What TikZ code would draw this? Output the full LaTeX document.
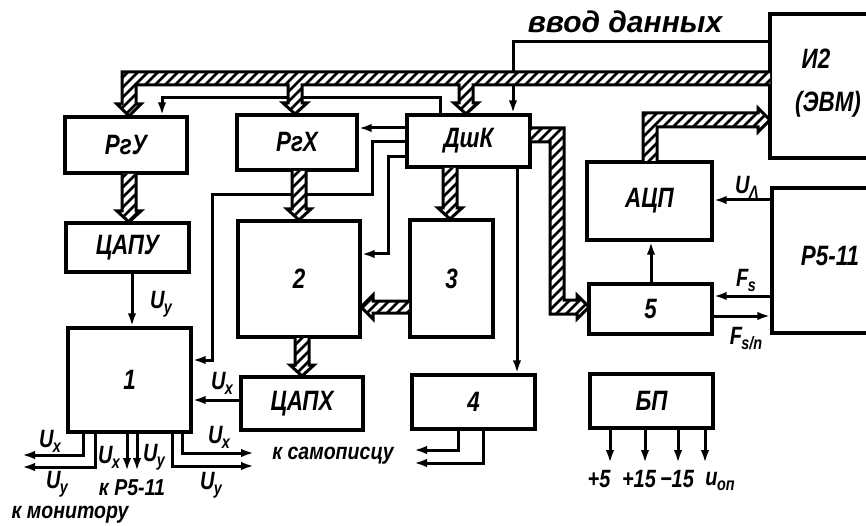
\documentclass[tikz,border=0pt]{standalone}
\usepackage{fontspec}
\setmainfont{Liberation Sans}[FakeStretch=0.8]
\newfontfamily\plainf{Liberation Sans}[FakeStretch=0.85]
\newfontfamily\widef{Liberation Sans}
\usetikzlibrary{arrows.meta}
\newcommand\lsub[2]{#1\kern-0.5pt\raisebox{-5pt}{\fontsize{18}{18}\selectfont #2}}
% hatched bus: #1 = open outline path (coordinates joined by --)
\newcommand\bus[1]{%
  \fill[white] #1 -- cycle;
  \begin{scope}
    \clip #1 -- cycle;
    \foreach \k in {-560,-550,...,880} {\draw[line width=2.8pt] (\k,540) -- ({\k+560},-20);}
  \end{scope}
  \draw[busl] #1;}
\newcommand\busdown[3]{%
  \bus{({#1-7},#2) -- ({#1-7},{#3-11}) -- ({#1-12},{#3-11}) -- (#1,#3) -- ({#1+12},{#3-11}) -- ({#1+7},{#3-11}) -- ({#1+7},#2)}}
\begin{document}
\begin{tikzpicture}[x=1pt,y=-1pt,
  box/.style={draw, line width=3.4pt, inner sep=0pt, font=\bfseries\itshape\fontsize{28}{28}\selectfont},
  lbl/.style={inner sep=0pt, font=\bfseries\itshape\fontsize{25}{25}\selectfont},
  big/.style={inner sep=0pt, font=\bfseries\itshape\fontsize{28}{28}\selectfont},
  txt/.style={inner sep=0pt, font=\plainf\bfseries\itshape\fontsize{23}{23}\selectfont},
  arr/.style={line width=3pt, -{Latex[length=13pt,width=8.5pt]}},
  busl/.style={line width=3pt, line join=miter},
]
\useasboundingbox (0,0) rectangle (866,526);

% boxes
\node[box, minimum width=122pt, minimum height=56pt] (rgy) at (126,145) {РгУ};
\node[box, minimum width=120pt, minimum height=55pt] (rgx) at (297,142.5) {РгХ};
\node[box, minimum width=123pt, minimum height=52pt] (dshk) at (468.5,141) {ДшК};
\node[box, minimum width=120pt, minimum height=144pt] (i2) at (830,86) {};
\node[box, minimum width=125pt, minimum height=78pt] (acp) at (649.5,201) {АЦП};
\node[box, minimum width=118pt, minimum height=145pt] (r511) at (831,260.5) {};
\node[box, minimum width=123pt, minimum height=50pt] (n5) at (650.5,309) {5};
\node[box, minimum width=123pt, minimum height=49pt] (capy) at (127.5,247.5) {ЦАПУ};
\node[box, minimum width=123pt, minimum height=104pt] (n1) at (129.5,380) {1};
\node[box, minimum width=122pt, minimum height=116pt] (n2) at (299,279) {2};
\node[box, minimum width=83pt, minimum height=117pt] (n3) at (451.5,278.5) {3};
\node[box, minimum width=122pt, minimum height=53pt] (capx) at (302,403.5) {ЦАПХ};
\node[box, minimum width=123pt, minimum height=54pt] (n4) at (473.5,402) {4};
\node[box, minimum width=123pt, minimum height=54pt] (bp) at (651.5,401) {БП};

\node[big] (i2a) at (816,59) {И2};
\node[big] (i2b) at (828,104) {(ЭВМ)};
\node[big] (r511t) at (830,256) {Р5-11};

% thin connectors (drawn first, buses pass over them)
\draw[arr] (dshk.north -| 440,0) |- (162,98) -- (rgy.north -| 162,0);
\draw[arr] (i2.west |- 0,42) -| (dshk.north -| 513,0);
\draw[arr] (dshk.west |- 0,128) -- (rgx.east |- 0,128);
\draw[arr] (dshk.west |- 0,142) -| (372,195) -| (212,360) -- (n1.east |- 0,360);
\draw[arr] (dshk.west |- 0,157) -| (388,254) -- (n2.east |- 0,254);
\draw[arr] (dshk.south -| 517,0) -- (n4.north -| 517,0);
\draw[arr] (capy.south -| 132,0) -- (n1.north -| 132,0);
\draw[arr] (capx.west |- 0,400) -- (n1.east |- 0,400);
\draw[arr] (n5.north -| 651,0) -- (acp.south -| 651,0);
\draw[arr] (r511.west |- 0,200) -- (acp.east |- 0,200);
\draw[arr] (r511.west |- 0,296) -- (n5.east |- 0,296);
\draw[arr] (n5.east |- 0,316) -- (r511.west |- 0,316);

% outputs of 1
\coordinate (m1) at (22,455);
\coordinate (m2) at (22,467);
\coordinate (p1) at (127,471);
\coordinate (p2) at (137,471);
\coordinate (s1) at (254,453);
\coordinate (s2) at (254,466);
\draw[arr] (n1.south -| 83,0) |- (m1);
\draw[arr] (n1.south -| 95,0) |- (m2);
\draw[arr] (n1.south -| p1) -- (p1);
\draw[arr] (n1.south -| p2) -- (p2);
\draw[arr] (n1.south -| 172,0) |- (s2);
\draw[arr] (n1.south -| 182,0) |- (s1);

% outputs of 4
\coordinate (q1) at (414,450);
\coordinate (q2) at (414,463);
\draw[arr] (n4.south -| 458,0) |- (q1);
\draw[arr] (n4.south -| 483,0) |- (q2);

% outputs of BP
\foreach \xx/\nm in {610/b1,645/b2,678/b3,705/b4}{
  \coordinate (\nm) at (\xx,463);
  \draw[arr] (bp.south -| \nm) -- (\nm);
}

% buses
\bus{(770,72) -- (122,72) -- (122,104) -- (117,104) -- (129,116) -- (141,104) -- (136,104) -- (136,85)
  -- (288,85) -- (288,103) -- (283,103) -- (295,114) -- (307,103) -- (302,103) -- (302,85)
  -- (459,85) -- (459,103) -- (454,103) -- (466,114) -- (478,103) -- (473,103) -- (473,85) -- (770,85)}
\bus{(531,128) -- (564,128) -- (564,300) -- (577,300) -- (577,295) -- (589,307) -- (577,319) -- (577,314) -- (550,314) -- (550,142) -- (531,142)}
\bus{(643,161) -- (643,113) -- (758,113) -- (758,108) -- (770,120) -- (758,132) -- (758,127) -- (657,127) -- (657,161)}
\bus{(409,301) -- (373,301) -- (373,295) -- (361,307) -- (373,319) -- (373,313) -- (409,313)}
\busdown{129}{174}{222}
\busdown{299}{171}{220}
\busdown{302}{338}{376}
\busdown{450}{168}{219}

% labels
\node[inner sep=0pt, font=\widef\bfseries\itshape\fontsize{30}{30}\selectfont] (vvod) at (625,22) {ввод данных};
\node[lbl] (luy) at (161,304) {\lsub{U}{y}};
\node[lbl] (lux) at (222,383) {\lsub{U}{x}};
\node[lbl] (l1) at (50,441) {\lsub{U}{x}};
\node[lbl] (l2) at (57,484) {\lsub{U}{y}};
\node[lbl] (l3) at (109,457) {\lsub{U}{x}};
\node[lbl] (l4) at (154,457) {\lsub{U}{y}};
\node[lbl] (l5) at (219,437) {\lsub{U}{x}};
\node[lbl] (l6) at (211,485) {\lsub{U}{y}};
\node[txt] (kp) at (132,488) {к Р5-11};
\node[txt] (kmon) at (70,515) {к монитору};
\node[txt] (ksam) at (333,456) {к самописцу};
\node[lbl] (lua) at (747,187) {\lsub{U}{Λ}};
\node[lbl] (lfs) at (746,280) {\lsub{F}{s}};
\node[lbl] (lfsn) at (746,339) {\lsub{F}{s/n}};
\node[lbl] (v1) at (599,479) {+5};
\node[lbl] (v2) at (639,479) {+15};
\node[lbl] (v3) at (677,479) {−15};
\node[lbl] (v4) at (720,481) {\lsub{u}{оп}};
\end{tikzpicture}
\end{document}
